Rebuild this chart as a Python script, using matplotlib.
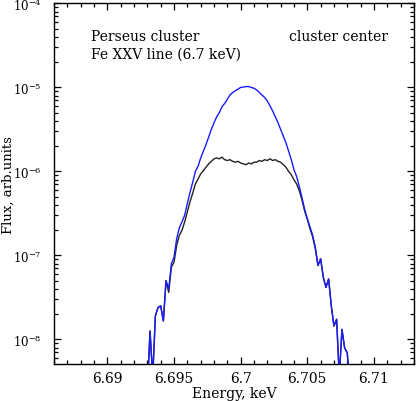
import numpy as np
import matplotlib
matplotlib.use("Agg")
import matplotlib.pyplot as plt
from matplotlib.ticker import MultipleLocator, LogLocator, NullFormatter

plt.rcParams['font.family'] = 'DejaVu Serif'
plt.rcParams['mathtext.fontset'] = 'dejavuserif'

# energy bins (keV), 0.0002 keV apart
e_start, e_step, n_bins = 6.6930, 0.0002, 77
energy = e_start + e_step * np.arange(n_bins)

# log10 of flux
log_blue = [-8.60, -7.90, -8.45, -7.72, -7.62, -7.60, -7.78, -7.30, -7.40, -7.10,
            -7.02, -6.80, -6.67, -6.60, -6.52, -6.38, -6.25, -6.13, -6.00, -5.94,
            -5.84, -5.76, -5.68, -5.59, -5.50, -5.42, -5.35, -5.30, -5.23, -5.19,
            -5.14, -5.09, -5.06, -5.04, -5.02, -5.00, -4.995, -4.99, -4.99, -5.00,
            -5.01, -5.03, -5.06, -5.09, -5.12, -5.16, -5.22, -5.28, -5.35, -5.42,
            -5.50, -5.58, -5.66, -5.76, -5.86, -5.98, -6.06, -6.18, -6.31, -6.45,
            -6.56, -6.66, -6.76, -6.90, -7.12, -7.04, -7.26, -7.38, -7.28, -7.60,
            -7.84, -7.76, -8.45, -7.88, -8.10, -8.16, -8.60]

log_black = [-8.60, -7.90, -8.45, -7.72, -7.62, -7.60, -7.78, -7.30, -7.44, -7.14,
             -7.08, -6.88, -6.76, -6.70, -6.60, -6.48, -6.36, -6.26, -6.15, -6.09,
             -6.03, -5.99, -5.95, -5.91, -5.88, -5.85, -5.84, -5.85, -5.83, -5.86,
             -5.87, -5.86, -5.88, -5.89, -5.88, -5.90, -5.91, -5.92, -5.90, -5.91,
             -5.89, -5.89, -5.87, -5.88, -5.86, -5.87, -5.85, -5.87, -5.86, -5.88,
             -5.89, -5.92, -5.95, -6.00, -6.04, -6.10, -6.15, -6.23, -6.34, -6.47,
             -6.57, -6.68, -6.78, -6.92, -7.12, -7.04, -7.26, -7.38, -7.28, -7.60,
             -7.84, -7.76, -8.45, -7.88, -8.10, -8.16, -8.60]

flux_blue = 10.0 ** np.array(log_blue)
flux_black = 10.0 ** np.array(log_black)

fig = plt.figure(figsize=(4.16, 4.02), dpi=100)
ax = fig.add_axes([0.130, 0.092, 0.865, 0.897])

ax.plot(energy, flux_black, color='#222222', lw=1.0)
ax.plot(energy, flux_blue, color='#1a1aff', lw=1.0)

ax.set_yscale('log')
ax.set_xlim(6.686, 6.713)
ax.set_ylim(5.1e-9, 1e-4)

ax.xaxis.set_minor_locator(MultipleLocator(0.001))
ax.set_xticks([6.69, 6.695, 6.7, 6.705, 6.71])
ax.set_xticklabels(['6.69', '6.695', '6.7', '6.705', '6.71'])
ax.yaxis.set_major_locator(LogLocator(base=10, numticks=10))
ax.yaxis.set_minor_locator(LogLocator(base=10, subs=np.arange(2, 10), numticks=20))
ax.yaxis.set_minor_formatter(NullFormatter())

ax.tick_params(which='both', direction='in', top=True, right=True)
ax.tick_params(which='major', length=5, width=0.9)
ax.tick_params(which='minor', length=3, width=0.9)
ax.tick_params(axis='x', pad=5, labelsize=10)
ax.tick_params(axis='y', pad=9, labelsize=8.5)
for s in ax.spines.values():
    s.set_linewidth(1.0)

ax.set_xlabel('Energy, keV', fontsize=10)
ax.set_ylabel('Flux, arb.units', fontsize=9.5)
ax.xaxis.set_label_coords(0.5, -0.080)
ax.yaxis.set_label_coords(-0.127, 0.5)
ax.xaxis.label.set_va('center')
ax.yaxis.label.set_va('center')

ax.text(0.103, 0.910, 'Perseus cluster', transform=ax.transAxes, fontsize=10, va='center')
ax.text(0.103, 0.860, 'Fe XXV line (6.7 keV)', transform=ax.transAxes, fontsize=10, va='center')
ax.text(0.653, 0.910, 'cluster center', transform=ax.transAxes, fontsize=10, va='center')

fig.savefig('out.png', dpi=100)
